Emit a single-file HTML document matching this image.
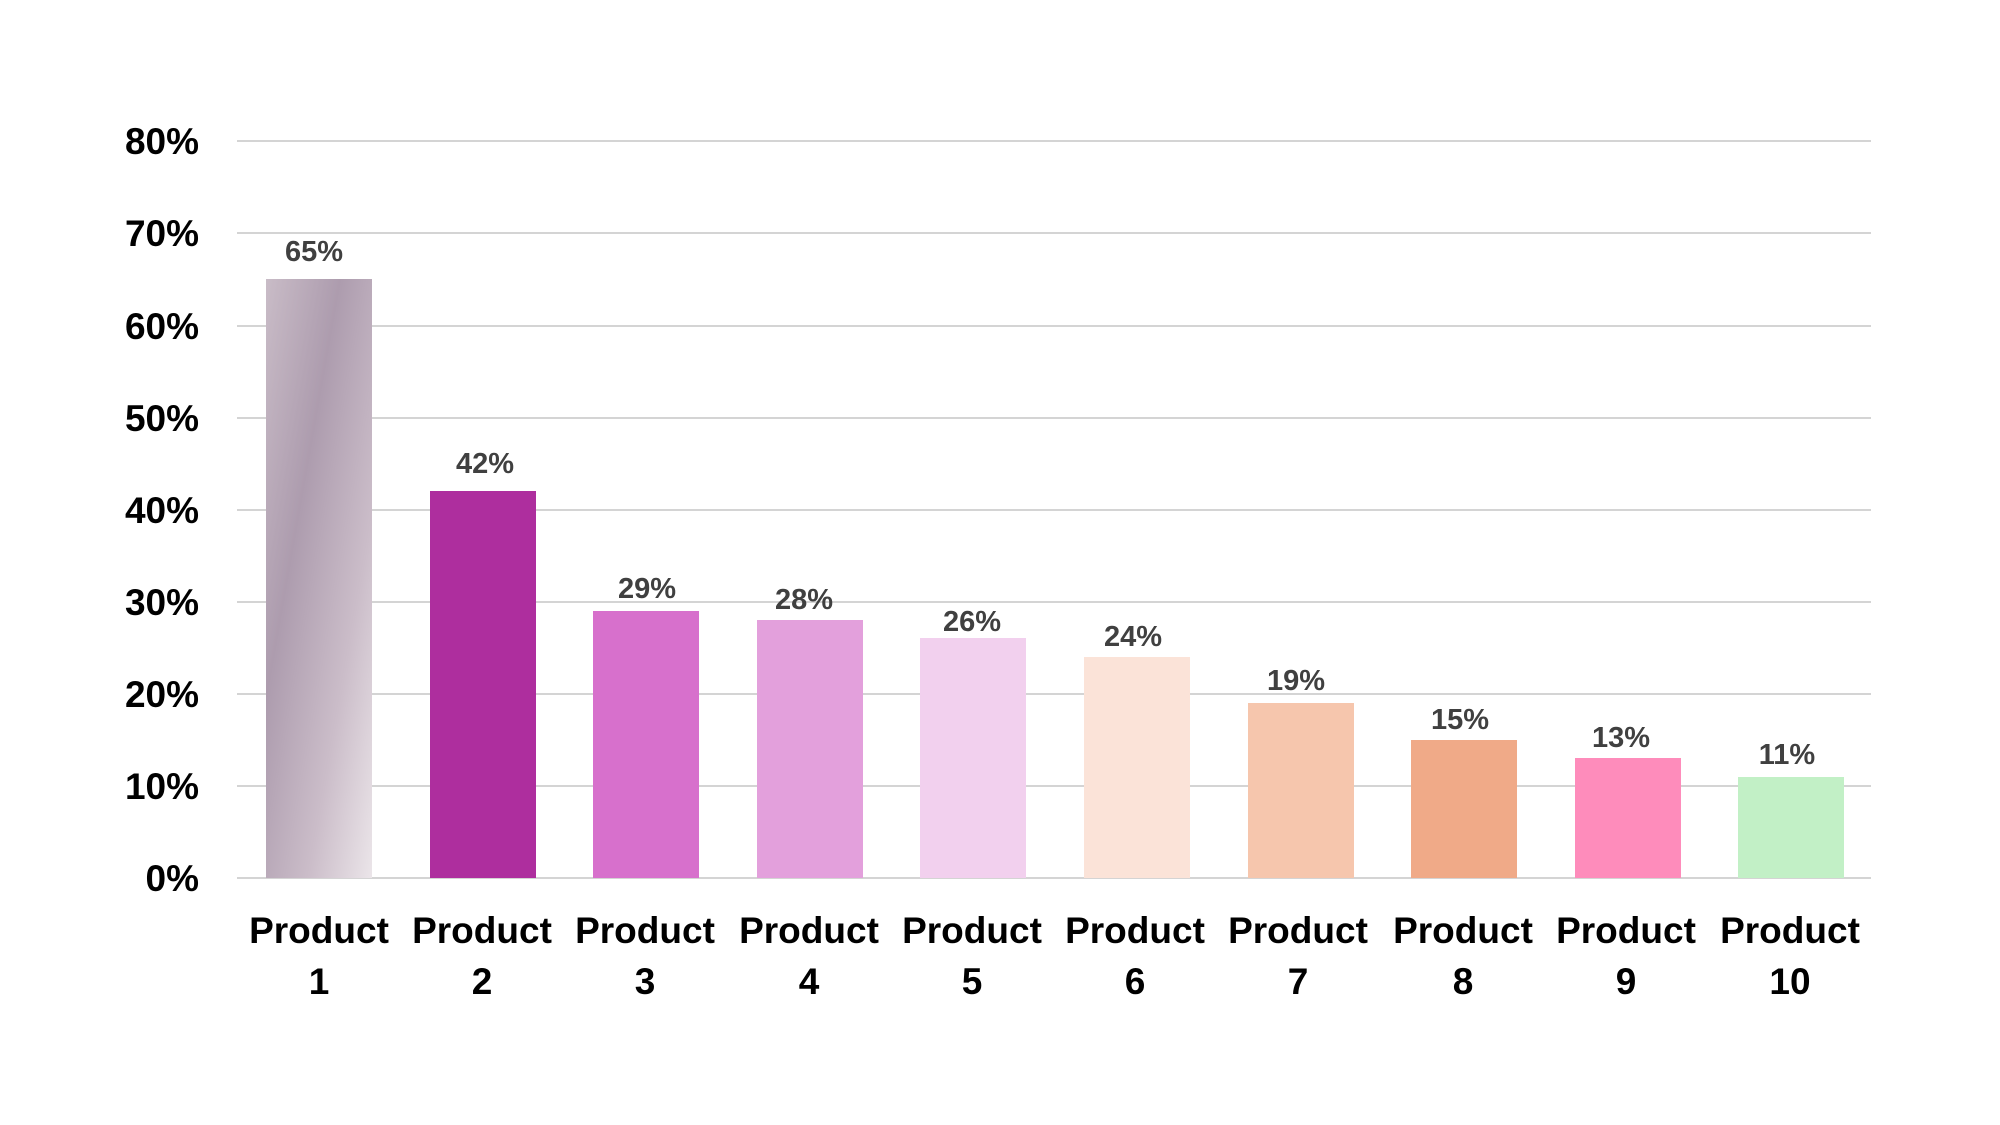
<!DOCTYPE html>
<html><head><meta charset="utf-8"><style>
html,body{margin:0;padding:0;background:#fff;}
svg{display:block;}
text{font-family:"Liberation Sans",Arial,sans-serif;font-weight:bold;}
</style></head><body>
<svg width="2000" height="1125" viewBox="0 0 2000 1125" xmlns="http://www.w3.org/2000/svg">
<defs>
<linearGradient id="g1" x1="0" y1="0" x2="1" y2="1">
<stop offset="0" stop-color="#c9bcc7"/>
<stop offset="0.35" stop-color="#ad9cae"/>
<stop offset="0.7" stop-color="#cbbdc9"/>
<stop offset="1" stop-color="#ebe5e9"/>
</linearGradient>
</defs>
<g stroke="#d4d4d4" stroke-width="2">
<line x1="237" x2="1871" y1="141" y2="141"/>
<line x1="237" x2="1871" y1="233" y2="233"/>
<line x1="237" x2="1871" y1="326" y2="326"/>
<line x1="237" x2="1871" y1="418" y2="418"/>
<line x1="237" x2="1871" y1="510" y2="510"/>
<line x1="237" x2="1871" y1="602" y2="602"/>
<line x1="237" x2="1871" y1="694" y2="694"/>
<line x1="237" x2="1871" y1="786" y2="786"/>
<line x1="237" x2="1871" y1="878" y2="878"/>
</g>
<g font-size="37" fill="#000" text-anchor="end">
<text x="199" y="154">80%</text>
<text x="199" y="246">70%</text>
<text x="199" y="339">60%</text>
<text x="199" y="431">50%</text>
<text x="199" y="523">40%</text>
<text x="199" y="615">30%</text>
<text x="199" y="707">20%</text>
<text x="199" y="799">10%</text>
<text x="199" y="891">0%</text>
</g>
<g>
<rect x="266" y="279" width="106" height="599" fill="url(#g1)"/>
<rect x="430" y="491" width="106" height="387" fill="#ae2e9e"/>
<rect x="593" y="611" width="106" height="267" fill="#d770cc"/>
<rect x="757" y="620" width="106" height="258" fill="#e3a0dc"/>
<rect x="920" y="638" width="106" height="240" fill="#f2d0ee"/>
<rect x="1084" y="657" width="106" height="221" fill="#fbe3d8"/>
<rect x="1248" y="703" width="106" height="175" fill="#f6c6ad"/>
<rect x="1411" y="740" width="106" height="138" fill="#f0aa88"/>
<rect x="1575" y="758" width="106" height="120" fill="#fe8cbb"/>
<rect x="1738" y="777" width="106" height="101" fill="#c2f0c6"/>
</g>
<g font-size="29" fill="#404040" text-anchor="middle">
<text x="314" y="261">65%</text>
<text x="485" y="473">42%</text>
<text x="647" y="598">29%</text>
<text x="804" y="609">28%</text>
<text x="972" y="631">26%</text>
<text x="1133" y="646">24%</text>
<text x="1296" y="690">19%</text>
<text x="1460" y="729">15%</text>
<text x="1621" y="747">13%</text>
<text x="1787" y="764">11%</text>
</g>
<g font-size="37" fill="#000" text-anchor="middle">
<text x="319" y="943">Product</text><text x="319" y="994">1</text>
<text x="482" y="943">Product</text><text x="482" y="994">2</text>
<text x="645" y="943">Product</text><text x="645" y="994">3</text>
<text x="809" y="943">Product</text><text x="809" y="994">4</text>
<text x="972" y="943">Product</text><text x="972" y="994">5</text>
<text x="1135" y="943">Product</text><text x="1135" y="994">6</text>
<text x="1298" y="943">Product</text><text x="1298" y="994">7</text>
<text x="1463" y="943">Product</text><text x="1463" y="994">8</text>
<text x="1626" y="943">Product</text><text x="1626" y="994">9</text>
<text x="1790" y="943">Product</text><text x="1790" y="994">10</text>
</g>
</svg>
</body></html>
